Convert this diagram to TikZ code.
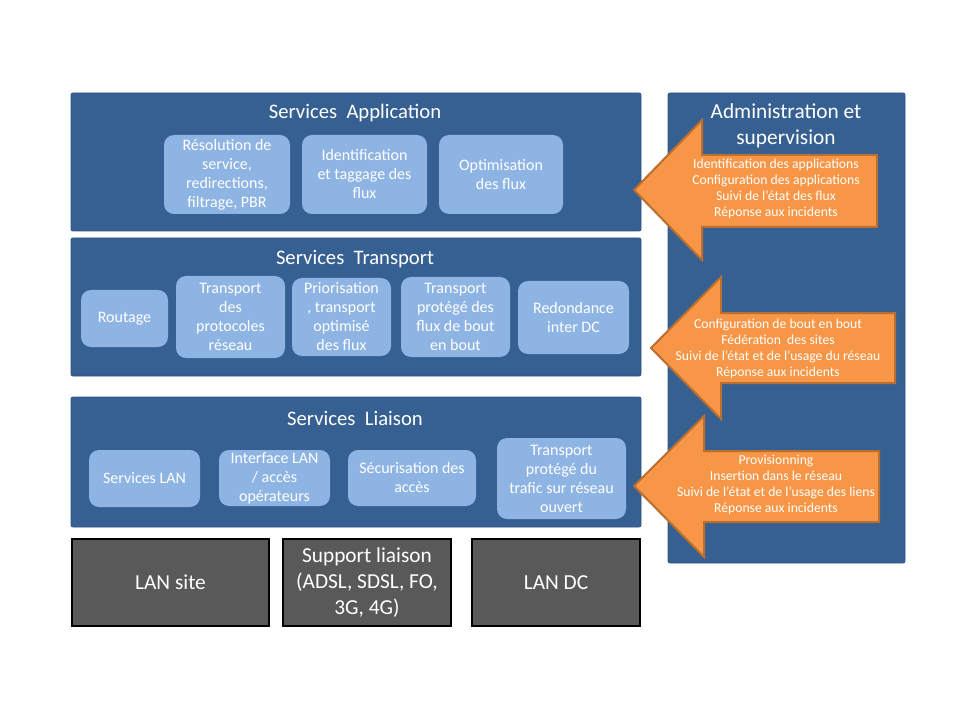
\documentclass[tikz,border=0pt]{standalone}
\usepackage{fontspec}
\setmainfont{Carlito}
\usetikzlibrary{fit}
\definecolor{dblue}{HTML}{376092}
\definecolor{dblueb}{HTML}{2F5481}
\definecolor{lblue}{HTML}{8EB4E3}
\definecolor{orng}{HTML}{F79646}
\definecolor{orngd}{HTML}{B86F30}
\definecolor{dgrey}{HTML}{595959}
\begin{document}
\begin{tikzpicture}[x=0.75pt,y=-0.75pt,
  layerbox/.style={fill=dblue, draw=dblueb, line width=0.6pt, rounded corners=1.5pt, inner sep=0pt},
  ltitle/.style={text=white, font=\fontsize{15.5}{18}\selectfont, inner sep=0pt},
  svc/.style={fill=lblue, rounded corners=7.5pt, inner sep=0pt},
  svctext/.style={text=white, align=center, inner sep=0pt, font=\fontsize{12}{14.25}\selectfont},
  ground/.style={fill=dgrey, draw=black, line width=2pt, inner sep=0pt},
  gtext/.style={text=white, align=center, inner sep=0pt, font=\fontsize{16}{19.5}\selectfont},
  arrowshape/.style={fill=orng, draw=orngd, line width=1.5pt, line join=miter},
  atext/.style={text=white, align=center, inner sep=0pt, font=\fontsize{10.25}{12}\selectfont},
]
\useasboundingbox[fill=white] (0,0) rectangle (960,720);

% Services Application
\node[layerbox, fit={(71,93) (641,231)}] (app) {};
\node[ltitle] (appt) at (355,113) {Services\ \ Application};
\node[svc, fit={(164,135) (290,214)}] (a1) {};
\node[svctext] (a1t) at (a1.center) {Résolution de\\service,\\redirections,\\filtrage, PBR};
\node[svc, fit={(302,135) (427,214)}] (a2) {};
\node[svctext] (a2t) at (a2.center) {Identification\\et taggage des\\flux};
\node[svc, fit={(439,135) (563,214)}] (a3) {};
\node[svctext] (a3t) at (a3.center) {Optimisation\\des flux};

% Services Transport
\node[layerbox, fit={(71,238) (641,376)}] (tr) {};
\node[ltitle] (trt) at (355,259) {Services\ \ Transport};
\node[svc, fit={(81,290) (168,347)}] (t1) {};
\node[svctext] (t1t) at (t1.center) {Routage};
\node[svc, fit={(176,276) (285,358)}] (t2) {};
\node[svctext] (t2t) at (t2.center) {Transport\\des\\protocoles\\réseau};
\node[svc, fit={(292,278) (391,356)}] (t3) {};
\node[svctext] (t3t) at (t3.center) {Priorisation\\, transport\\optimisé\\des flux};
\node[svc, fit={(401,277) (510,357)}] (t4) {};
\node[svctext] (t4t) at (t4.center) {Transport\\protégé des\\flux de bout\\en bout};
\node[svc, fit={(518,281) (629,354)}] (t5) {};
\node[svctext] (t5t) at (t5.center) {Redondance\\inter DC};

% Services Liaison
\node[layerbox, fit={(71,397) (641,527)}] (li) {};
\node[ltitle] (lit) at (355,418) {Services\ \ Liaison};
\node[svc, fit={(89,450) (200,507)}] (l1) {};
\node[svctext] (l1t) at (l1.center) {Services LAN};
\node[svc, fit={(219,450) (330,506)}] (l2) {};
\node[svctext] (l2t) at (l2.center) {Interface LAN\\/ accès\\opérateurs};
\node[svc, fit={(348,450) (476,506)}] (l3) {};
\node[svctext] (l3t) at (l3.center) {Sécurisation des\\accès};
\node[svc, fit={(497,438) (626,519)}] (l4) {};
\node[svctext] (l4t) at (l4.center) {Transport\\protégé du\\trafic sur réseau\\ouvert};

% Ground boxes
\node[ground, fit={(72,539) (269,626)}] (g1) {};
\node[gtext] (g1t) at (g1.center) {LAN site};
\node[ground, fit={(283,539) (451,626)}] (g2) {};
\node[gtext] (g2t) at (g2.center) {Support liaison\\(ADSL, SDSL, FO,\\3G, 4G)};
\node[ground, fit={(472,539) (640,626)}] (g3) {};
\node[gtext] (g3t) at (g3.center) {LAN DC};

% Administration
\node[layerbox, fit={(668,93) (905,563)}] (adm) {};
\node[gtext] (admt) at (786,126) {Administration et\\supervision};

% Arrows
\draw[arrowshape] (634,190) -- (702,120) -- (702,155) -- (877,155) -- (877,227) -- (702,227) -- (702,260) -- cycle;
\node[atext] (ar1) at (776,189) {Identification des applications\\Configuration des applications\\Suivi de l’état des flux\\Réponse aux incidents};

\draw[arrowshape] (651,348) -- (721,277) -- (721,313) -- (895,313) -- (895,383) -- (721,383) -- (721,419) -- cycle;
\node[atext] (ar2) at (778,349) {Configuration de bout en bout\\Fédération\ \ des sites\\Suivi de l’état et de l’usage du réseau\\Réponse aux incidents};

\draw[arrowshape] (634,486) -- (704,416) -- (704,451) -- (879,451) -- (879,522) -- (704,522) -- (704,557) -- cycle;
\node[atext] (ar3) at (776,485) {Provisionning\\Insertion dans le réseau\\Suivi de l’état et de l’usage des liens\\Réponse aux incidents};
\end{tikzpicture}
\end{document}
